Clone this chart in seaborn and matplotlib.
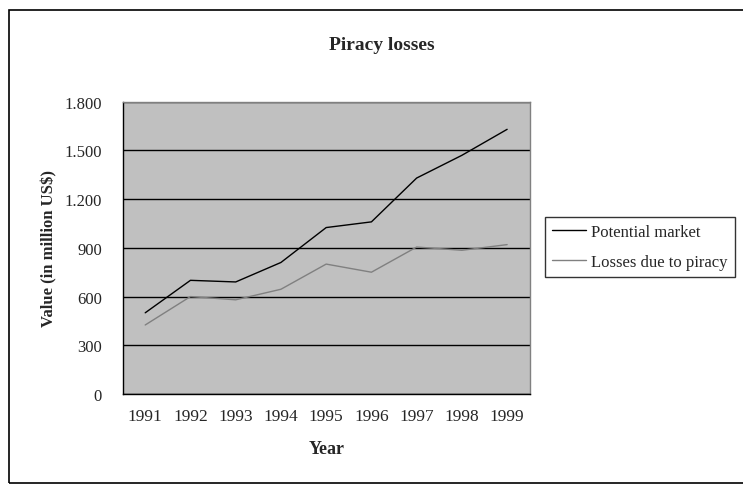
import pandas as pd
import matplotlib
matplotlib.use('Agg')
import matplotlib.pyplot as plt
import seaborn as sns
from matplotlib.ticker import FuncFormatter, FixedLocator
from matplotlib.patches import Rectangle

# data
years = ['1991', '1992', '1993', '1994', '1995', '1996', '1997', '1998', '1999']
potential_market = [500, 700, 690, 810, 1025, 1060, 1330, 1470, 1630]
piracy_losses = [425, 600, 580, 645, 800, 750, 905, 885, 920]
series_names = ['Potential market', 'Losses due to piracy']

df = pd.DataFrame({
    'pos': list(range(len(years))) * 2,
    'value': potential_market + piracy_losses,
    'series': [series_names[0]] * len(years) + [series_names[1]] * len(years),
})

sns.set_style('white')
plt.rcParams['font.family'] = ['Liberation Serif', 'DejaVu Serif']

fig = plt.figure(figsize=(7.43, 4.85), dpi=100)
ax = fig.add_axes([0.165, 0.1856, 0.548, 0.6026])
ax.set_facecolor('#c0c0c0')

sns.lineplot(data=df, x='pos', y='value', hue='series',
             palette={series_names[0]: 'black', series_names[1]: '#808080'},
             linewidth=1.0, ax=ax, legend=True)

ax.set_xlim(-0.5, len(years) - 0.5)
ax.set_ylim(0, 1800)
ax.set_yticks(range(0, 1801, 300))
ax.yaxis.set_major_formatter(FuncFormatter(lambda v, p: f'{int(v):,}'.replace(',', '.')))
ax.yaxis.grid(True, color='black', linewidth=1.0)
ax.set_axisbelow(True)

ax.set_xticks(range(len(years)))
ax.set_xticklabels(years)
ax.xaxis.set_minor_locator(FixedLocator([i - 0.5 for i in range(len(years) + 1)]))
ax.tick_params(axis='x', which='major', length=0, pad=10, labelsize=12.5)
ax.tick_params(axis='x', which='minor', length=4, width=1, color='black', direction='out')
ax.tick_params(axis='y', length=5, width=1, color='black', direction='out', labelsize=12, pad=10)

for s in ['top', 'right']:
    ax.spines[s].set_color('#808080')
    ax.spines[s].set_linewidth(1)
for s in ['left', 'bottom']:
    ax.spines[s].set_color('black')
    ax.spines[s].set_linewidth(1)

ax.set_xlabel('Year', fontweight='bold', fontsize=13, va='top')
ax.xaxis.set_label_coords(0.5, -0.158)
ax.set_ylabel('Value (in million US$)', fontweight='bold', fontsize=12, va='center')
ax.yaxis.set_label_coords(-0.18, 0.5)
fig.text(0.514, 0.907, 'Piracy losses', ha='center', va='center',
         fontweight='bold', fontsize=14)

leg = ax.legend(loc='center left', bbox_to_anchor=(1.037, 0.503), frameon=True,
                fancybox=False, edgecolor='black', fontsize=12,
                handlelength=2.0, handletextpad=0.3, borderpad=0.45,
                labelspacing=0.8, borderaxespad=0)
leg.get_frame().set_linewidth(1)
for line in leg.get_lines():
    line.set_linewidth(1.0)

# outer chart frame
fig.patches.append(Rectangle((9 / 743, 0.002), 1.0, 1 - 11 / 485 - 0.002,
                             transform=fig.transFigure, fill=False,
                             edgecolor='black', linewidth=1.2))

fig.savefig('out.png', dpi=100)
